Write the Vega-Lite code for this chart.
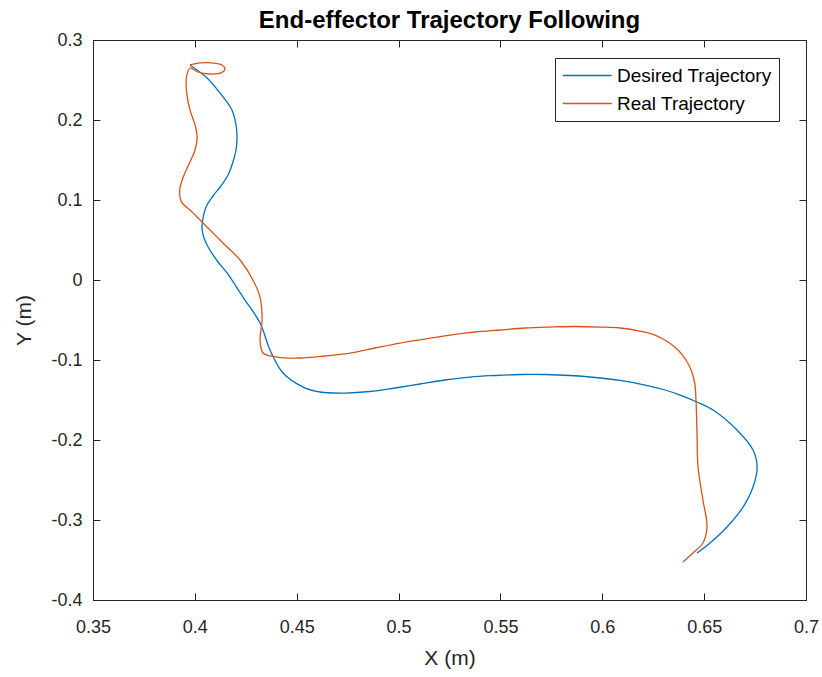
{
  "$schema": "https://vega.github.io/schema/vega-lite/v6.json",
  "width": 713,
  "height": 560,
  "autosize": {"type": "none"},
  "padding": {"left": 93, "top": 40, "right": 16, "bottom": 77},
  "background": "white",
  "title": {"text": "End-effector Trajectory Following", "font": "Liberation Sans", "fontSize": 24, "fontWeight": "bold", "color": "#000000", "offset": -2},
  "config": {
    "view": {"stroke": "#262626", "strokeWidth": 1},
    "axis": {"grid": false, "domainColor": "#262626", "tickColor": "#262626", "labelColor": "#262626", "titleColor": "#262626", "labelFont": "Liberation Sans", "titleFont": "Liberation Sans", "labelFontSize": 18, "titleFontSize": 21, "titleFontWeight": "normal", "tickSize": -7, "labelExpr": "'' + datum.value"}
  },
  "data": {"values": [
    {"s": "Desired Trajectory", "i": 0, "x": 0.3976, "y": 0.2688},
    {"s": "Desired Trajectory", "i": 1, "x": 0.4060, "y": 0.2525},
    {"s": "Desired Trajectory", "i": 2, "x": 0.4123, "y": 0.2338},
    {"s": "Desired Trajectory", "i": 3, "x": 0.4182, "y": 0.2125},
    {"s": "Desired Trajectory", "i": 4, "x": 0.4202, "y": 0.1938},
    {"s": "Desired Trajectory", "i": 5, "x": 0.4207, "y": 0.1775},
    {"s": "Desired Trajectory", "i": 6, "x": 0.4202, "y": 0.1625},
    {"s": "Desired Trajectory", "i": 7, "x": 0.4187, "y": 0.1475},
    {"s": "Desired Trajectory", "i": 8, "x": 0.4163, "y": 0.1313},
    {"s": "Desired Trajectory", "i": 9, "x": 0.4128, "y": 0.1175},
    {"s": "Desired Trajectory", "i": 10, "x": 0.4089, "y": 0.105},
    {"s": "Desired Trajectory", "i": 11, "x": 0.4055, "y": 0.0913},
    {"s": "Desired Trajectory", "i": 12, "x": 0.4040, "y": 0.0775},
    {"s": "Desired Trajectory", "i": 13, "x": 0.4035, "y": 0.065},
    {"s": "Desired Trajectory", "i": 14, "x": 0.4045, "y": 0.0525},
    {"s": "Desired Trajectory", "i": 15, "x": 0.4065, "y": 0.0413},
    {"s": "Desired Trajectory", "i": 16, "x": 0.4114, "y": 0.0225},
    {"s": "Desired Trajectory", "i": 17, "x": 0.4158, "y": 0.0088},
    {"s": "Desired Trajectory", "i": 18, "x": 0.4236, "y": -0.0213},
    {"s": "Desired Trajectory", "i": 19, "x": 0.4320, "y": -0.0538},
    {"s": "Desired Trajectory", "i": 20, "x": 0.4369, "y": -0.0875},
    {"s": "Desired Trajectory", "i": 21, "x": 0.4433, "y": -0.1163},
    {"s": "Desired Trajectory", "i": 22, "x": 0.4531, "y": -0.1338},
    {"s": "Desired Trajectory", "i": 23, "x": 0.4614, "y": -0.14},
    {"s": "Desired Trajectory", "i": 24, "x": 0.4737, "y": -0.1413},
    {"s": "Desired Trajectory", "i": 25, "x": 0.4860, "y": -0.1394},
    {"s": "Desired Trajectory", "i": 26, "x": 0.4982, "y": -0.135},
    {"s": "Desired Trajectory", "i": 27, "x": 0.5105, "y": -0.13},
    {"s": "Desired Trajectory", "i": 28, "x": 0.5228, "y": -0.125},
    {"s": "Desired Trajectory", "i": 29, "x": 0.5351, "y": -0.1213},
    {"s": "Desired Trajectory", "i": 30, "x": 0.5473, "y": -0.1194},
    {"s": "Desired Trajectory", "i": 31, "x": 0.5596, "y": -0.1181},
    {"s": "Desired Trajectory", "i": 32, "x": 0.5719, "y": -0.1181},
    {"s": "Desired Trajectory", "i": 33, "x": 0.5842, "y": -0.1194},
    {"s": "Desired Trajectory", "i": 34, "x": 0.5964, "y": -0.1219},
    {"s": "Desired Trajectory", "i": 35, "x": 0.6087, "y": -0.1256},
    {"s": "Desired Trajectory", "i": 36, "x": 0.6210, "y": -0.1313},
    {"s": "Desired Trajectory", "i": 37, "x": 0.6308, "y": -0.1375},
    {"s": "Desired Trajectory", "i": 38, "x": 0.6382, "y": -0.1438},
    {"s": "Desired Trajectory", "i": 39, "x": 0.6465, "y": -0.1525},
    {"s": "Desired Trajectory", "i": 40, "x": 0.6544, "y": -0.1625},
    {"s": "Desired Trajectory", "i": 41, "x": 0.6661, "y": -0.1875},
    {"s": "Desired Trajectory", "i": 42, "x": 0.6740, "y": -0.2125},
    {"s": "Desired Trajectory", "i": 43, "x": 0.6760, "y": -0.2338},
    {"s": "Desired Trajectory", "i": 44, "x": 0.6740, "y": -0.2588},
    {"s": "Desired Trajectory", "i": 45, "x": 0.6691, "y": -0.2838},
    {"s": "Desired Trajectory", "i": 46, "x": 0.6612, "y": -0.3088},
    {"s": "Desired Trajectory", "i": 47, "x": 0.6529, "y": -0.3288},
    {"s": "Desired Trajectory", "i": 48, "x": 0.6465, "y": -0.3413},
    {"s": "Real Trajectory", "i": 0, "x": 0.3976, "y": 0.2688},
    {"s": "Real Trajectory", "i": 1, "x": 0.4025, "y": 0.2713},
    {"s": "Real Trajectory", "i": 2, "x": 0.4084, "y": 0.2713},
    {"s": "Real Trajectory", "i": 3, "x": 0.4133, "y": 0.2688},
    {"s": "Real Trajectory", "i": 4, "x": 0.4148, "y": 0.2638},
    {"s": "Real Trajectory", "i": 5, "x": 0.4128, "y": 0.2588},
    {"s": "Real Trajectory", "i": 6, "x": 0.4074, "y": 0.2575},
    {"s": "Real Trajectory", "i": 7, "x": 0.4015, "y": 0.26},
    {"s": "Real Trajectory", "i": 8, "x": 0.3976, "y": 0.265},
    {"s": "Real Trajectory", "i": 9, "x": 0.3961, "y": 0.2563},
    {"s": "Real Trajectory", "i": 10, "x": 0.3957, "y": 0.2463},
    {"s": "Real Trajectory", "i": 11, "x": 0.3961, "y": 0.2313},
    {"s": "Real Trajectory", "i": 12, "x": 0.3976, "y": 0.2125},
    {"s": "Real Trajectory", "i": 13, "x": 0.4001, "y": 0.1938},
    {"s": "Real Trajectory", "i": 14, "x": 0.4011, "y": 0.1788},
    {"s": "Real Trajectory", "i": 15, "x": 0.4001, "y": 0.1625},
    {"s": "Real Trajectory", "i": 16, "x": 0.3976, "y": 0.1475},
    {"s": "Real Trajectory", "i": 17, "x": 0.3947, "y": 0.1313},
    {"s": "Real Trajectory", "i": 18, "x": 0.3927, "y": 0.115},
    {"s": "Real Trajectory", "i": 19, "x": 0.3927, "y": 0.1038},
    {"s": "Real Trajectory", "i": 20, "x": 0.3937, "y": 0.0963},
    {"s": "Real Trajectory", "i": 21, "x": 0.3976, "y": 0.0875},
    {"s": "Real Trajectory", "i": 22, "x": 0.4040, "y": 0.0713},
    {"s": "Real Trajectory", "i": 23, "x": 0.4138, "y": 0.0463},
    {"s": "Real Trajectory", "i": 24, "x": 0.4222, "y": 0.025},
    {"s": "Real Trajectory", "i": 25, "x": 0.4285, "y": 0.0},
    {"s": "Real Trajectory", "i": 26, "x": 0.4320, "y": -0.0213},
    {"s": "Real Trajectory", "i": 27, "x": 0.4330, "y": -0.05},
    {"s": "Real Trajectory", "i": 28, "x": 0.4320, "y": -0.075},
    {"s": "Real Trajectory", "i": 29, "x": 0.4335, "y": -0.0913},
    {"s": "Real Trajectory", "i": 30, "x": 0.4403, "y": -0.0963},
    {"s": "Real Trajectory", "i": 31, "x": 0.4516, "y": -0.0975},
    {"s": "Real Trajectory", "i": 32, "x": 0.4639, "y": -0.095},
    {"s": "Real Trajectory", "i": 33, "x": 0.4762, "y": -0.0913},
    {"s": "Real Trajectory", "i": 34, "x": 0.4884, "y": -0.085},
    {"s": "Real Trajectory", "i": 35, "x": 0.5007, "y": -0.0788},
    {"s": "Real Trajectory", "i": 36, "x": 0.5130, "y": -0.0738},
    {"s": "Real Trajectory", "i": 37, "x": 0.5252, "y": -0.0688},
    {"s": "Real Trajectory", "i": 38, "x": 0.5375, "y": -0.065},
    {"s": "Real Trajectory", "i": 39, "x": 0.5498, "y": -0.0625},
    {"s": "Real Trajectory", "i": 40, "x": 0.5621, "y": -0.06},
    {"s": "Real Trajectory", "i": 41, "x": 0.5743, "y": -0.0588},
    {"s": "Real Trajectory", "i": 42, "x": 0.5866, "y": -0.0581},
    {"s": "Real Trajectory", "i": 43, "x": 0.5989, "y": -0.0588},
    {"s": "Real Trajectory", "i": 44, "x": 0.6087, "y": -0.06},
    {"s": "Real Trajectory", "i": 45, "x": 0.6185, "y": -0.0638},
    {"s": "Real Trajectory", "i": 46, "x": 0.6259, "y": -0.0688},
    {"s": "Real Trajectory", "i": 47, "x": 0.6323, "y": -0.0775},
    {"s": "Real Trajectory", "i": 48, "x": 0.6372, "y": -0.0875},
    {"s": "Real Trajectory", "i": 49, "x": 0.6411, "y": -0.1},
    {"s": "Real Trajectory", "i": 50, "x": 0.6440, "y": -0.115},
    {"s": "Real Trajectory", "i": 51, "x": 0.6455, "y": -0.1313},
    {"s": "Real Trajectory", "i": 52, "x": 0.6460, "y": -0.15},
    {"s": "Real Trajectory", "i": 53, "x": 0.6465, "y": -0.1913},
    {"s": "Real Trajectory", "i": 54, "x": 0.6470, "y": -0.2338},
    {"s": "Real Trajectory", "i": 55, "x": 0.6494, "y": -0.275},
    {"s": "Real Trajectory", "i": 56, "x": 0.6514, "y": -0.3088},
    {"s": "Real Trajectory", "i": 57, "x": 0.6494, "y": -0.3288},
    {"s": "Real Trajectory", "i": 58, "x": 0.6445, "y": -0.3413},
    {"s": "Real Trajectory", "i": 59, "x": 0.6396, "y": -0.3525}
  ]},
  "resolve": {"axis": {"x": "independent", "y": "independent"}},
  "layer": [
    {
      "mark": {"type": "line", "interpolate": "catmull-rom", "strokeWidth": 1.3},
      "encoding": {
        "x": {"field": "x", "type": "quantitative", "scale": {"domain": [0.35, 0.7], "nice": false, "zero": false}, "axis": {"title": "X (m)", "values": [0.35, 0.4, 0.45, 0.5, 0.55, 0.6, 0.65, 0.7], "labelPadding": 25, "titlePadding": 11, "labelFlush": false}},
        "y": {"field": "y", "type": "quantitative", "scale": {"domain": [-0.4, 0.3], "nice": false, "zero": false}, "axis": {"title": "Y (m)", "values": [-0.4, -0.3, -0.2, -0.1, 0, 0.1, 0.2, 0.3], "labelPadding": 18, "titlePadding": 16, "labelFlush": false}},
        "order": {"field": "i", "type": "quantitative"},
        "color": {"field": "s", "type": "nominal", "scale": {"domain": ["Desired Trajectory", "Real Trajectory"], "range": ["#0072BD", "#D95319"]}, "legend": {"title": null, "orient": "none", "legendX": 462, "legendY": 18, "fillColor": "white", "strokeColor": "#262626", "padding": 7, "symbolType": "M-1,0H4", "symbolSize": 384, "symbolStrokeWidth": 1.3, "labelFont": "Liberation Sans", "labelFontSize": 19, "labelColor": "#000000", "rowPadding": 7, "labelOffset": 34, "labelLimit": 300}}
      }
    },
    {
      "mark": {"type": "line", "opacity": 0},
      "encoding": {
        "x": {"field": "x", "type": "quantitative", "axis": {"orient": "top", "title": null, "labels": false, "values": [0.35, 0.4, 0.45, 0.5, 0.55, 0.6, 0.65, 0.7]}},
        "y": {"field": "y", "type": "quantitative", "axis": {"orient": "right", "title": null, "labels": false, "values": [-0.4, -0.3, -0.2, -0.1, 0, 0.1, 0.2, 0.3]}},
        "order": {"field": "i", "type": "quantitative"},
        "detail": {"field": "s"}
      }
    }
  ]
}
